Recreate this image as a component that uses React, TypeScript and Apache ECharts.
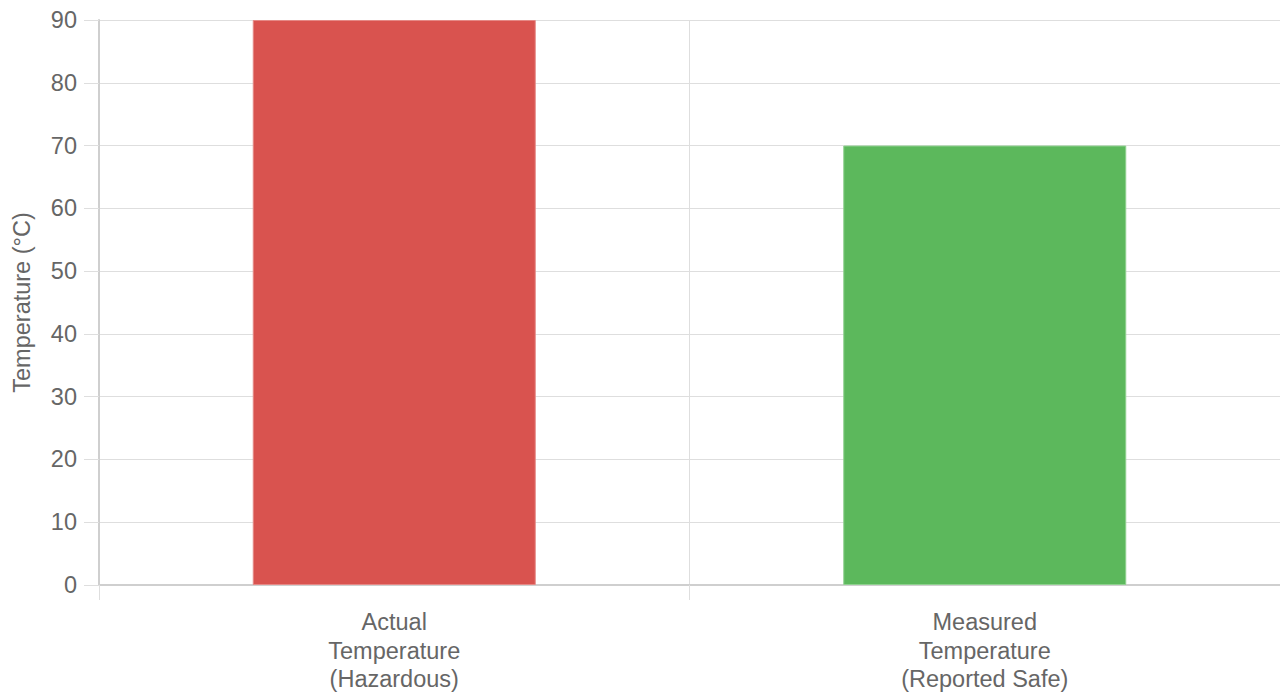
import React, { useEffect, useRef } from "react";
import * as echarts from "echarts";

const categories = ["Actual\nTemperature\n(Hazardous)", "Measured\nTemperature\n(Reported Safe)"];
const values = [90, 70];
const barColors = ["#d9534f", "#5cb85c"];
const borderColors = ["#e58986", "#8fd08f"];
const yAxisName = "Temperature (°C)";

export default function App() {
  const ref = useRef<HTMLDivElement>(null);
  useEffect(() => {
    if (!ref.current) return;
    const chart = echarts.init(ref.current, null, { renderer: "svg" });
    const font = "'Liberation Sans', Helvetica, Arial, sans-serif";
    chart.setOption({
      animation: false,
      grid: { left: 99, right: 0, top: 20, bottom: 115, containLabel: false, outerBoundsMode: "none" },
      xAxis: {
        type: "category",
        data: categories,
        boundaryGap: true,
        axisLine: { show: true, lineStyle: { color: "#cfcfcf", width: 2 } },
        axisTick: { show: true, length: 15, lineStyle: { color: "#dedede" } },
        splitLine: { show: true, lineStyle: { color: "#dedede" } },
        axisLabel: {
          color: "#666",
          fontSize: 23.5,
          fontFamily: font,
          lineHeight: 28.5,
          margin: 23,
        },
      },
      yAxis: {
        type: "value",
        min: 0,
        max: 90,
        interval: 10,
        name: yAxisName,
        nameLocation: "middle",
        nameGap: 65,
        nameTextStyle: { color: "#666", fontSize: 23.5, fontFamily: font },
        axisLine: { show: true, lineStyle: { color: "#cfcfcf", width: 2 } },
        axisTick: { show: true, length: 15, lineStyle: { color: "#dedede" } },
        splitLine: { show: true, lineStyle: { color: "#dedede" } },
        axisLabel: { color: "#666", fontSize: 23.5, fontFamily: font, margin: 22 },
      },
      series: [
        {
          type: "bar",
          barWidth: 283,
          data: values.map((v, i) => ({
            value: v,
            itemStyle: { color: barColors[i], borderColor: borderColors[i], borderWidth: 1 },
          })),
        },
      ],
    });
    return () => chart.dispose();
  }, []);
  return (
    <div
      ref={ref}
      style={{ position: "absolute", left: 0, top: 0, width: 1280, height: 700, background: "#fff" }}
    />
  );
}
